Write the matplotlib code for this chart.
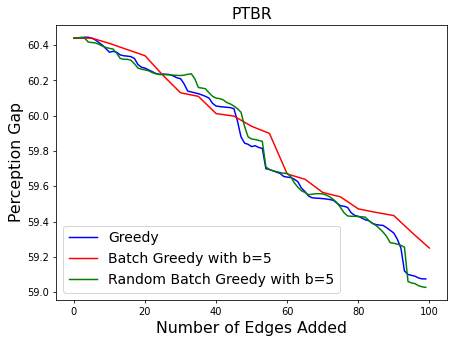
import matplotlib

matplotlib.use("Agg")

import matplotlib.pyplot as plt
import numpy as np

# edges added, 0..99 for the single-step curves
greedy_x = np.arange(100)
greedy = [
    60.44, 60.44, 60.443, 60.445, 60.445, 60.44, 60.43, 60.415, 60.40, 60.38,
    60.36, 60.365, 60.36, 60.345, 60.34, 60.338, 60.335, 60.325, 60.29, 60.275,
    60.27, 60.26, 60.25, 60.24, 60.235, 60.236, 60.235, 60.233, 60.225, 60.215,
    60.21, 60.18, 60.14, 60.135, 60.13, 60.125, 60.118, 60.11, 60.10, 60.07,
    60.055, 60.052, 60.05, 60.048, 60.046, 60.04, 59.97, 59.88, 59.845, 59.838,
    59.825, 59.83, 59.82, 59.815, 59.70, 59.695, 59.688, 59.68, 59.673, 59.656,
    59.652, 59.65, 59.64, 59.626, 59.59, 59.57, 59.545, 59.535, 59.533, 59.532,
    59.53, 59.528, 59.525, 59.52, 59.505, 59.49, 59.487, 59.48, 59.45, 59.435,
    59.43, 59.42, 59.41, 59.405, 59.39, 59.383, 59.38, 59.378, 59.365, 59.35,
    59.335, 59.30, 59.25, 59.12, 59.10, 59.095, 59.09, 59.08, 59.075, 59.075,
]

random_batch = [
    60.44, 60.442, 60.444, 60.44, 60.418, 60.415, 60.413, 60.405, 60.395, 60.387,
    60.382, 60.378, 60.355, 60.325, 60.32, 60.32, 60.315, 60.295, 60.27, 60.264,
    60.26, 60.255, 60.245, 60.238, 60.234, 60.233, 60.233, 60.232, 60.23, 60.229,
    60.228, 60.23, 60.235, 60.238, 60.21, 60.16, 60.157, 60.153, 60.13, 60.11,
    60.10, 60.097, 60.09, 60.075, 60.067, 60.055, 60.04, 60.02, 59.94, 59.88,
    59.868, 59.865, 59.86, 59.855, 59.71, 59.695, 59.688, 59.683, 59.678, 59.674,
    59.673, 59.655, 59.62, 59.595, 59.575, 59.565, 59.552, 59.555, 59.558, 59.558,
    59.557, 59.55, 59.54, 59.525, 59.507, 59.48, 59.45, 59.432, 59.43, 59.43,
    59.428, 59.427, 59.425, 59.405, 59.39, 59.378, 59.36, 59.34, 59.315, 59.28,
    59.277, 59.272, 59.265, 59.255, 59.06, 59.052, 59.048, 59.036, 59.03, 59.027,
]

# batch greedy, one point per batch of 5
batch_x = np.arange(0, 101, 5)
batch = [
    60.44, 60.44, 60.41, 60.375, 60.34, 60.23, 60.13, 60.11, 60.012, 59.998,
    59.94, 59.90, 59.67, 59.64, 59.565, 59.54, 59.472, 59.452, 59.434, 59.34,
    59.25,
]

fig, ax = plt.subplots(figsize=(6.4, 4.8), dpi=70.85)
fig.subplots_adjust(left=0.124, right=0.986, top=0.927, bottom=0.118)

ax.plot(greedy_x, greedy, color="blue", label="Greedy")
ax.plot(batch_x, batch, color="red", label="Batch Greedy with b=5")
ax.plot(greedy_x, random_batch, color="green", label="Random Batch Greedy with b=5")

ax.set_title("PTBR", fontsize=16)
ax.set_xlabel("Number of Edges Added", fontsize=16)
ax.set_ylabel("Perception Gap", fontsize=16)
ax.legend(loc="lower left", fontsize=14.3)

fig.savefig("out.png")
